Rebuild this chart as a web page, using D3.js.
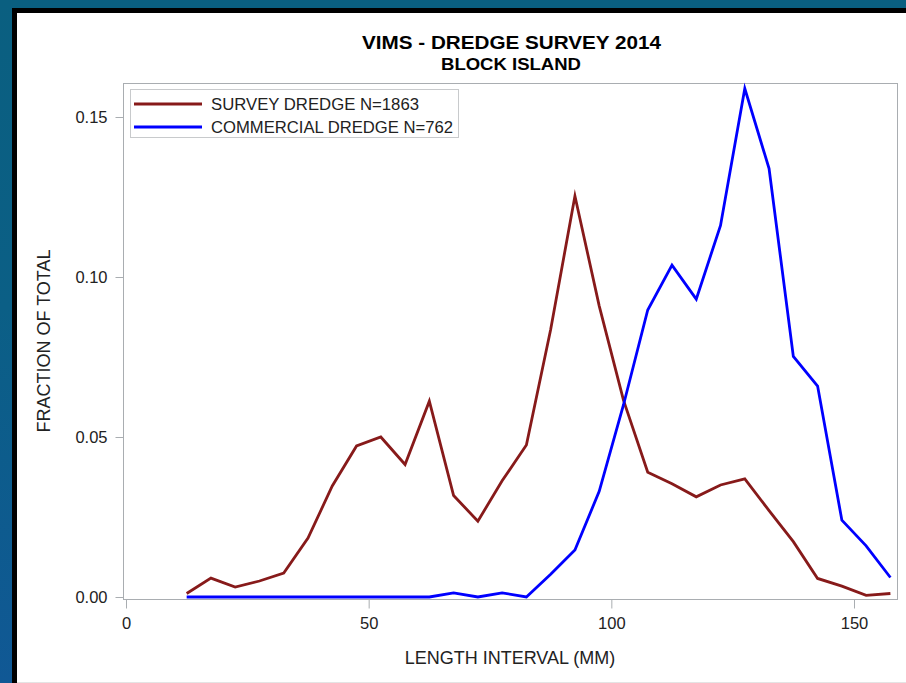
<!DOCTYPE html>
<html>
<head>
<meta charset="utf-8">
<script src="https://cdn.jsdelivr.net/npm/d3@7/dist/d3.min.js"></script>
<style>
  html, body { margin: 0; padding: 0; background: #0b5c8a; }
  svg { display: block; }
  text { font-family: "Liberation Sans", Arial, Helvetica, sans-serif; }
</style>
</head>
<body>
<svg id="chart" width="906" height="683"></svg>
<script>
// Length-frequency distribution, Block Island dredge survey 2014
const lengthMid = [12.5, 17.5, 22.5, 27.5, 32.5, 37.5, 42.5, 47.5, 52.5, 57.5,
                   62.5, 67.5, 72.5, 77.5, 82.5, 87.5, 92.5, 97.5, 102.5, 107.5,
                   112.5, 117.5, 122.5, 127.5, 132.5, 137.5, 142.5, 147.5, 152.5, 157.5];

const surveyFrac = [0.0011, 0.0059, 0.0031, 0.0050, 0.0075, 0.0184, 0.0347, 0.0472, 0.0500, 0.0414,
                    0.0612, 0.0317, 0.0237, 0.0363, 0.0475, 0.0836, 0.1253, 0.0910, 0.0615, 0.0390,
                    0.0354, 0.0313, 0.0350, 0.0369, 0.0270, 0.0173, 0.0058, 0.0034, 0.0005, 0.0011];

const commercialFrac = [0, 0, 0, 0, 0, 0, 0, 0, 0, 0,
                        0, 0.0013, 0, 0.0013, 0, 0.0071, 0.0147, 0.0330, 0.0600, 0.0897,
                        0.1037, 0.0931, 0.1161, 0.1589, 0.1339, 0.0752, 0.0659, 0.0240, 0.0160, 0.0061];

const seriesNames = ["SURVEY DREDGE N=1863", "COMMERCIAL DREDGE N=762"];
const seriesColors = ["#871a1a", "#0000ff"];

const xTicks = [0, 50, 100, 150];
const yTicks = [0, 0.05, 0.10, 0.15];

const titleText = "VIMS - DREDGE SURVEY 2014";
const subtitleText = "BLOCK ISLAND";
const xLabel = "LENGTH INTERVAL (MM)";
const yLabel = "FRACTION OF TOTAL";

const svg = d3.select("#chart");
const W = 906, H = 683;

// backdrop: blue gradient, black frame, white panel
const defs = svg.append("defs");
const grad = defs.append("linearGradient").attr("id", "bg")
  .attr("x1", 0).attr("y1", 0).attr("x2", 0).attr("y2", 1);
grad.append("stop").attr("offset", "0%").attr("stop-color", "#0a5f80");
grad.append("stop").attr("offset", "45%").attr("stop-color", "#0b5f86");
grad.append("stop").attr("offset", "100%").attr("stop-color", "#105895");

svg.append("rect").attr("width", W).attr("height", H).attr("fill", "url(#bg)");
svg.append("rect").attr("x", 12).attr("y", 8).attr("width", W - 12).attr("height", H - 8).attr("fill", "#000");
svg.append("rect").attr("x", 17).attr("y", 13).attr("width", W - 17).attr("height", H - 14).attr("fill", "#fff");
svg.append("line").attr("x1", 17).attr("x2", W).attr("y1", 682.5).attr("y2", 682.5)
  .attr("stroke", "#e4e4e4").attr("stroke-width", 1);

// plot frame
const frame = { left: 123, right: 898, top: 83, bottom: 600 };

const x = d3.scaleLinear().domain([0, 150]).range([126, 854]);
const y = d3.scaleLinear().domain([0, 0.15]).range([597, 117]);

svg.append("rect")
  .attr("x", frame.left + 0.5).attr("y", frame.top + 0.5)
  .attr("width", frame.right - frame.left - 1).attr("height", frame.bottom - frame.top - 1)
  .attr("fill", "none").attr("stroke", "#a9adb1").attr("stroke-width", 1);

// axes
const yAxis = d3.axisLeft(y).tickValues(yTicks).tickFormat(d3.format(".2f"))
  .tickSize(8).tickPadding(8);
const gy = svg.append("g").attr("transform", `translate(${frame.left + 0.5},0)`).call(yAxis);

const xAxis = d3.axisBottom(x).tickValues(xTicks).tickFormat(d3.format("d"))
  .tickSize(9).tickPadding(9);
const gx = svg.append("g").attr("transform", `translate(0,${frame.bottom - 0.5})`).call(xAxis);

[gx, gy].forEach(g => {
  g.select(".domain").remove();
  g.selectAll(".tick line").attr("stroke", "#a9adb1");
  g.selectAll(".tick text").attr("fill", "#222")
    .style("font-size", "16.5px")
    .style("font-family", '"Liberation Sans", Arial, sans-serif');
});

// series lines
const line = d3.line().x((d, i) => x(lengthMid[i])).y(d => y(d));
[surveyFrac, commercialFrac].forEach((vals, k) => {
  svg.append("path")
    .datum(vals)
    .attr("d", line)
    .attr("fill", "none")
    .attr("stroke", seriesColors[k])
    .attr("stroke-width", 2.8)
    .attr("stroke-linejoin", "miter")
    .attr("stroke-miterlimit", 10);
});

// titles
svg.append("text").attr("x", 511.5).attr("y", 48.5).attr("text-anchor", "middle")
  .style("font-size", "19px").style("font-weight", "bold").attr("fill", "#000")
  .attr("textLength", 299).attr("lengthAdjust", "spacingAndGlyphs")
  .text(titleText);
svg.append("text").attr("x", 511).attr("y", 69.5).attr("text-anchor", "middle")
  .style("font-size", "16.5px").style("font-weight", "bold").attr("fill", "#000")
  .attr("textLength", 140).attr("lengthAdjust", "spacingAndGlyphs")
  .text(subtitleText);

// axis labels
svg.append("text").attr("x", 510).attr("y", 664).attr("text-anchor", "middle")
  .style("font-size", "18px").attr("fill", "#222").text(xLabel);
svg.append("text")
  .attr("transform", `translate(49.5,341) rotate(-90)`)
  .attr("text-anchor", "middle")
  .style("font-size", "18px").attr("fill", "#222").text(yLabel);

// legend
const lg = svg.append("g");
lg.append("rect").attr("x", 130.5).attr("y", 89.5).attr("width", 328).attr("height", 48)
  .attr("fill", "#fff").attr("stroke", "#c8cacc").attr("stroke-width", 1);
const legendRowY = [104, 127];
const legendTextW = [208, 242];
seriesNames.forEach((name, k) => {
  lg.append("line").attr("x1", 134).attr("x2", 202)
    .attr("y1", legendRowY[k]).attr("y2", legendRowY[k])
    .attr("stroke", seriesColors[k]).attr("stroke-width", 2.8);
  lg.append("text").attr("x", 211).attr("y", legendRowY[k] + 5.8)
    .style("font-size", "16px").attr("fill", "#222")
    .attr("textLength", legendTextW[k]).attr("lengthAdjust", "spacingAndGlyphs")
    .text(name);
});
</script>
</body>
</html>
